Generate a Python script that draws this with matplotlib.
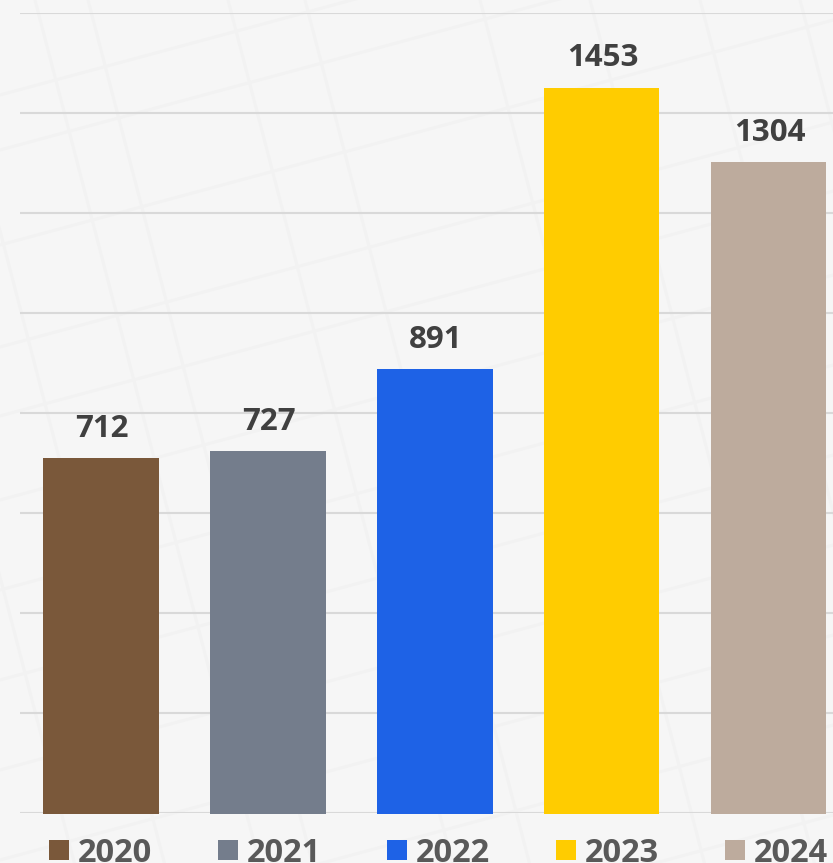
import matplotlib
matplotlib.use("Agg")
import matplotlib.pyplot as plt
from matplotlib.lines import Line2D
from matplotlib.patches import Rectangle
from matplotlib.transforms import ScaledTranslation

years = ["2020", "2021", "2022", "2023", "2024"]
values = [712, 727, 891, 1453, 1304]
colors = ["#7A583A", "#747D8C", "#1E62E6", "#FFCC00", "#BDAB9D"]
y_ticks = list(range(0, 1601, 200))

W, H = 833, 863
BG = "#F6F6F6"
plt.rcParams["font.family"] = ["Open Sans", "DejaVu Sans"]
fig = plt.figure(figsize=(W / 100, H / 100), dpi=100, facecolor=BG)

# faint decorative street-map texture behind the chart
ROAD = "#F2F2F2"
road_offsets_v = [-150, -60, 35, 88, 228, 305, 480, 590, 700, 800]
road_offsets_h = [95, 150, 245, 347, 416, 500, 590, 680, 770, 860, 950, 1040]
for x0 in road_offsets_v:
    fig.add_artist(Line2D([x0 / W, (x0 + 0.26 * H) / W], [1, 0], color=ROAD,
                          lw=2.2, zorder=-1, transform=fig.transFigure))
for y0 in road_offsets_h:
    fig.add_artist(Line2D([0, 1], [1 - y0 / H, 1 - (y0 - 0.27 * W) / H], color=ROAD,
                          lw=2.2, zorder=-1, transform=fig.transFigure))

# axes: x 20..833 px, y 13..813 px
ax = fig.add_axes([20 / W, (H - 813) / H, (W - 20) / W, 800 / H])
ax.set_facecolor("none")
step = 166.9
c0 = 101.0
ax.set_xlim((20 - c0) / step, (W - c0) / step)
ax.set_ylim(0, 1600)
ax.set_yticks(y_ticks)
ax.set_xticks([])
ax.tick_params(left=False, labelleft=False)
ax.yaxis.grid(True, color="#D9D9D9", linewidth=1.5, zorder=0)
ax.set_axisbelow(True)
for s in ax.spines.values():
    s.set_visible(False)

xs = list(range(len(years)))
# bars sit about 1 px lower than the grid in the reference
shift = ax.transData + ScaledTranslation(0, -1.1 / 100, fig.dpi_scale_trans)
bars = ax.bar(xs, values, width=115.4 / step, color=colors, zorder=3)
for b in bars:
    b.set_transform(shift)
    b.set_clip_on(False)
for x, v in zip(xs, values):
    ax.annotate(str(v), (x, v), xytext=(1, 13), textcoords="offset pixels",
                ha="center", va="bottom", fontsize=22.5, fontweight="bold",
                color="#404040", zorder=4)

# legend row
legend_left = 49
legend_step = 169
for i, (label, col) in enumerate(zip(years, colors)):
    left = legend_left + legend_step * i
    fig.add_artist(Rectangle((left / W, (H - 860) / H), 20 / W, 20 / H,
                             transform=fig.transFigure, color=col, lw=0))
    fig.text((left + 29) / W, 1.5 / H, label, ha="left", va="baseline",
             fontsize=23.5, fontweight="bold", color="#595959")

fig.savefig("out.png", dpi=100, facecolor=BG)
